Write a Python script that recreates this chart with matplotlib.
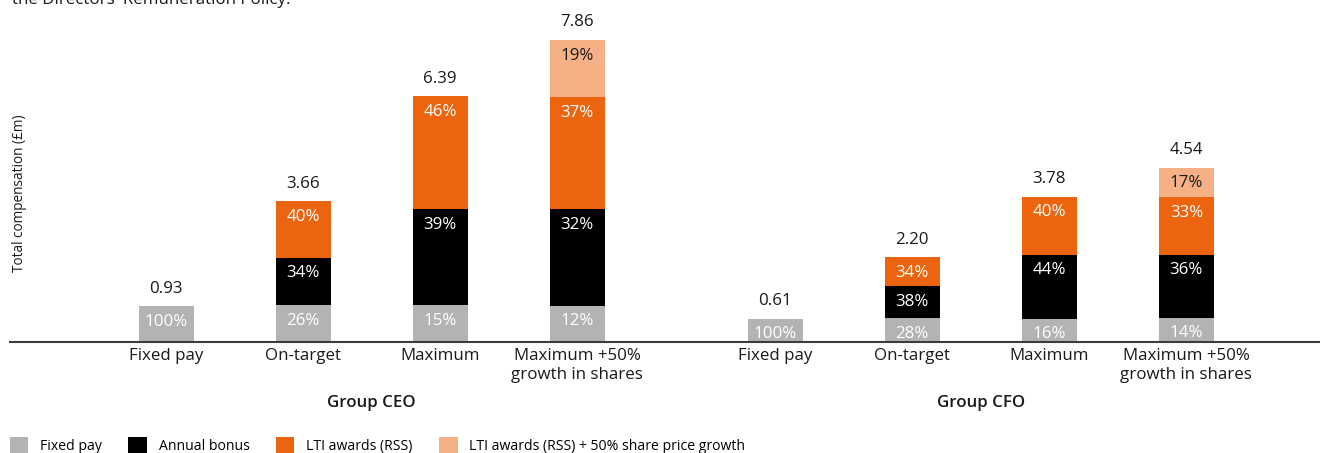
import matplotlib.pyplot as plt
import numpy as np
from matplotlib.patches import Patch

plt.rcParams['font.family'] = ['Open Sans', 'DejaVu Sans']

# scenario totals (GBP m) and the share of each pay element (%)
scenarios = ['Fixed pay', 'On-target', 'Maximum', 'Maximum +50%\ngrowth in shares']
groups = ['Group CEO', 'Group CFO']
components = ['Fixed pay', 'Annual bonus', 'LTI awards (RSS)',
              'LTI awards (RSS) + 50% share price growth']

ceo_total = [0.93, 3.66, 6.39, 7.86]
ceo_pct = [[100, 0, 0, 0],
           [26, 34, 40, 0],
           [15, 39, 46, 0],
           [12, 32, 37, 19]]

cfo_total = [0.61, 2.20, 3.78, 4.54]
cfo_pct = [[100, 0, 0, 0],
           [28, 38, 34, 0],
           [16, 44, 40, 0],
           [14, 36, 33, 17]]

colors = ['#b3b3b3', '#000000', '#ec640d', '#f6b085']
text_colors = ['white', 'white', 'white', '#1a1a1a']

fig = plt.figure(figsize=(13.2, 4.53), dpi=100, facecolor='white')
ax = fig.add_axes([0.0076, 0.245, 0.9924, 0.755])

gap = 1.445
x_ceo = np.arange(4)
x_cfo = np.arange(4) + 3 + gap
width = 0.4
fs = 12.2

for xs, totals, pcts in [(x_ceo, ceo_total, ceo_pct), (x_cfo, cfo_total, cfo_pct)]:
    for x, tot, pct in zip(xs, totals, pcts):
        bottom = 0.0
        for i, p in enumerate(pct):
            if p == 0:
                continue
            h = tot * p / 100.0
            ax.bar(x, h, width=width, bottom=bottom, color=colors[i], linewidth=0)
            ax.annotate(f'{p}%', (x, bottom + h), xytext=(0, -5.5),
                        textcoords='offset points', ha='center', va='top',
                        fontsize=fs, color=text_colors[i])
            bottom += h
        ax.annotate(f'{tot:.2f}', (x, tot), xytext=(0, 7),
                    textcoords='offset points', ha='center', va='bottom',
                    fontsize=fs, color='#1a1a1a')

ax.set_xlim(-1.139, 8.42)
ax.set_ylim(0, 8.9)
for s in ['top', 'right', 'left']:
    ax.spines[s].set_visible(False)
ax.spines['bottom'].set_color('#3c3c3c')
ax.spines['bottom'].set_linewidth(1.5)
ax.set_yticks([])
ax.set_xticks(np.concatenate([x_ceo, x_cfo]))
ax.set_xticklabels(scenarios * 2, fontsize=fs, color='#1a1a1a', linespacing=1.3)
ax.tick_params(axis='x', length=0, pad=4)

for xs, g in zip([x_ceo, x_cfo], groups):
    ax.text(xs.mean(), -0.178, g, transform=ax.get_xaxis_transform(),
            ha='center', va='center', fontsize=fs, fontweight='semibold',
            color='#1a1a1a')

fig.text(20 / 1320, 1 - 193 / 453, 'Total compensation (£m)', rotation=90,
         ha='center', va='center', fontsize=9.8, color='#1a1a1a')

# tail of the paragraph above the chart
fig.text(12 / 1320, 1 - 4 / 453, "the Directors' Remuneration Policy.",
         ha='left', va='baseline', fontsize=12.2, color='#1a1a1a')

handles = [Patch(facecolor=c, edgecolor='none') for c in colors]
fig.legend(handles, components, loc='lower left', bbox_to_anchor=(0.001, -0.02),
           ncol=4, frameon=False, fontsize=10.1, handlelength=1.3,
           handleheight=1.3, handletextpad=0.85, columnspacing=1.9,
           borderaxespad=0.3, borderpad=0.3)

plt.savefig('out.png', dpi=100, facecolor='white')
